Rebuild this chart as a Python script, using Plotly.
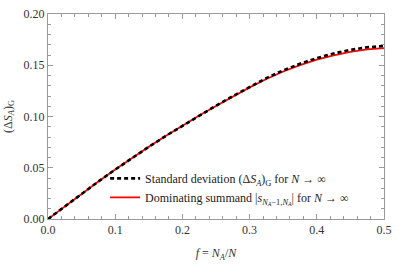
import plotly.graph_objects as go

# fraction f = N_A / N
f_vals = [0.0, 0.025, 0.05, 0.075, 0.1, 0.125, 0.15, 0.175, 0.2, 0.225, 0.25,
          0.275, 0.3, 0.325, 0.35, 0.375, 0.4, 0.425, 0.45, 0.475, 0.5]
# standard deviation (Delta S_A)_G for N -> inf (black dashed)
std_dev = [0.0, 0.0125, 0.0247, 0.0366, 0.0482, 0.0595, 0.0704, 0.0809, 0.0910,
           0.1010, 0.1105, 0.1198, 0.1290, 0.1375, 0.1450, 0.1515, 0.1570,
           0.1615, 0.1650, 0.1675, 0.1688]
# dominating summand |s_{N_A-1,N_A}| for N -> inf (red solid)
dom_summand = [0.0, 0.0125, 0.0247, 0.0366, 0.0482, 0.0595, 0.0704, 0.0809, 0.0910,
               0.1009, 0.1103, 0.1195, 0.1284, 0.1366, 0.1439, 0.1501, 0.1554,
               0.1597, 0.1630, 0.1654, 0.1668]

x_ticks = [0.0, 0.1, 0.2, 0.3, 0.4, 0.5]
x_ticklabels = ["0.0", "0.1", "0.2", "0.3", "0.4", "0.5"]
y_ticks = [0.0, 0.05, 0.10, 0.15, 0.20]
y_ticklabels = ["0.00", "0.05", "0.10", "0.15", "0.20"]

label_std = "Standard deviation (Δ<i>S</i><sub><i>A</i></sub>)<sub>G</sub> for <i>N</i> → ∞"
label_dom = ("Dominating summand |<i>s</i><sub><i>N<sub>A</sub></i>−1,<i>N<sub>A</sub></i></sub>| "
             "for <i>N</i> → ∞")

SERIF = "Liberation Serif"

fig = go.Figure()
fig.add_trace(go.Scatter(x=f_vals, y=dom_summand, mode="lines", name=label_dom,
                         line=dict(color="#ff0000", width=1.8), legendrank=2))
fig.add_trace(go.Scatter(x=f_vals, y=std_dev, mode="lines", name=label_std,
                         line=dict(color="#000000", width=2.6, dash="4px,3px"),
                         legendrank=1))

frame = "#9a9a9a"
fig.update_layout(
    width=399, height=265,
    margin=dict(l=47, r=7.5, t=9, b=44),
    plot_bgcolor="white", paper_bgcolor="white",
    font=dict(family=SERIF, size=12, color="#333333"),
    showlegend=True,
    legend=dict(x=0.17, y=0.269, xanchor="left", yanchor="top",
                bgcolor="rgba(0,0,0,0)", borderwidth=0,
                font=dict(family=SERIF, size=12, color="#222222")),
)
fig.update_xaxes(
    range=[0, 0.5], tickvals=x_ticks, ticktext=x_ticklabels,
    tickfont=dict(family=SERIF, size=12, color="#333333"),
    ticks="inside", ticklen=5, tickwidth=1, tickcolor=frame,
    showline=True, linecolor=frame, linewidth=1, mirror="ticks",
    minor=dict(dtick=0.02, ticks="inside", ticklen=3, tickcolor=frame),
    showgrid=False, zeroline=False,
    title=dict(text="<i>f</i> = <i>N</i><sub><i>A</i></sub>/<i>N</i>", standoff=12,
               font=dict(family=SERIF, size=12, color="#333333")),
)
fig.update_yaxes(
    range=[0, 0.2], tickvals=y_ticks, ticktext=y_ticklabels,
    tickfont=dict(family=SERIF, size=12, color="#333333"),
    ticks="inside", ticklen=5, tickwidth=1, tickcolor=frame,
    showline=True, linecolor=frame, linewidth=1, mirror="ticks",
    minor=dict(dtick=0.01, ticks="inside", ticklen=3, tickcolor=frame),
    showgrid=False, zeroline=False,
    title=dict(text="(Δ<i>S</i><sub><i>A</i></sub>)<sub>G</sub>", standoff=8,
               font=dict(family=SERIF, size=12, color="#333333")),
)

fig.write_html("out.html",
               config={"displayModeBar": False},
               post_script="document.body.style.margin='0';"
                           "document.body.style.overflow='hidden';")
